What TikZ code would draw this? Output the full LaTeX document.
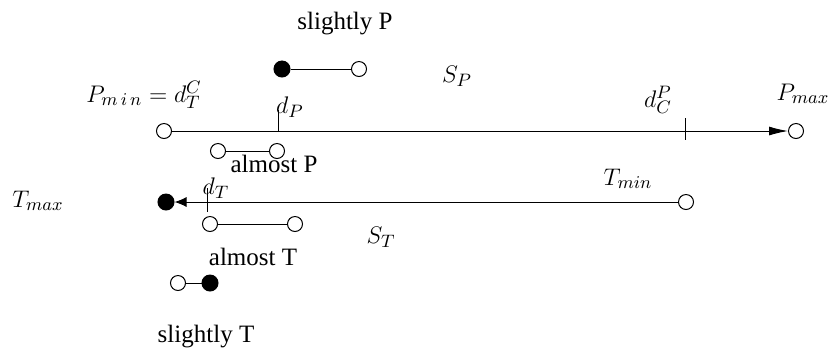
\documentclass[tikz,border=0pt]{standalone}
\usepackage{fontspec}
\setmainfont{Liberation Serif}
\usetikzlibrary{arrows.meta}
\begin{document}
\begin{tikzpicture}[x=0.5pt,y=-0.5pt,
  od/.style={circle,draw,fill=white,inner sep=0pt,minimum size=7.5pt,line width=0.5pt},
  fd/.style={circle,draw,fill=black,inner sep=0pt,minimum size=8pt,line width=0.5pt},
  lbl/.style={inner sep=0pt,anchor=base,font=\fontsize{12.5}{14}\selectfont},
  seg/.style={line width=0.5pt},
  bigtip/.style={-{Latex[length=9.5pt,width=4.5pt]}},
  smalltip/.style={-{Latex[length=6pt,width=5pt]}}]
\useasboundingbox (0,0) rectangle (835,350);
% slightly P
\node[lbl] (slP) at (345,29) {slightly P};
\node[fd] (sp1) at (282,69) {};
\node[od] (sp2) at (359,69) {};
\draw[seg] (sp1) -- (sp2);
\node[lbl] (SP) at (457,82) {$S_P$};
% P line
\node[lbl] (pmin) at (144,102) {$P_{m\,i\,n} = d_T^C$};
\node[od] (p0) at (164,131) {};
\node[od] (p1) at (796,131) {};
\draw[seg,bigtip] (p0) -- (p1);
\coordinate (dPa) at (278,110);
\coordinate (dPb) at (278,131);
\draw[seg] (dPa) -- (dPb);
\node[lbl] (dP) at (290,113) {$d_P$};
\coordinate (dCa) at (685,118);
\coordinate (dCb) at (685,140);
\draw[seg] (dCa) -- (dCb);
\node[lbl] (dC) at (658,107) {$d_C^P$};
\node[lbl] (pmax) at (803,100) {$P_{max}$};
% almost P
\node[od] (ap1) at (218,151) {};
\node[od] (ap2) at (277,151) {};
\draw[seg] (ap1) -- (ap2);
\node[lbl] (almP) at (274,172) {almost P};
% T line
\node[lbl] (tmax) at (38,207) {$T_{max}$};
\node[fd] (t0) at (166,202) {};
\node[od] (t1) at (686,202) {};
\draw[seg,smalltip] (t1) -- (t0);
\coordinate (dTa) at (207,188);
\coordinate (dTb) at (207,212);
\draw[seg] (dTa) -- (dTb);
\node[lbl] (dT) at (216,194) {$d_T$};
\node[lbl] (tmin) at (628,185) {$T_{min}$};
% almost T
\node[od] (at1) at (210,224) {};
\node[od] (at2) at (295,224) {};
\draw[seg] (at1) -- (at2);
\node[lbl] (almT) at (253,265) {almost T};
\node[lbl] (ST) at (381,243) {$S_T$};
% slightly T
\node[od] (st1) at (178,283) {};
\node[fd] (st2) at (210,283) {};
\draw[seg] (st1) -- (st2);
\node[lbl] (slT) at (206,342) {slightly T};
\end{tikzpicture}
\end{document}
